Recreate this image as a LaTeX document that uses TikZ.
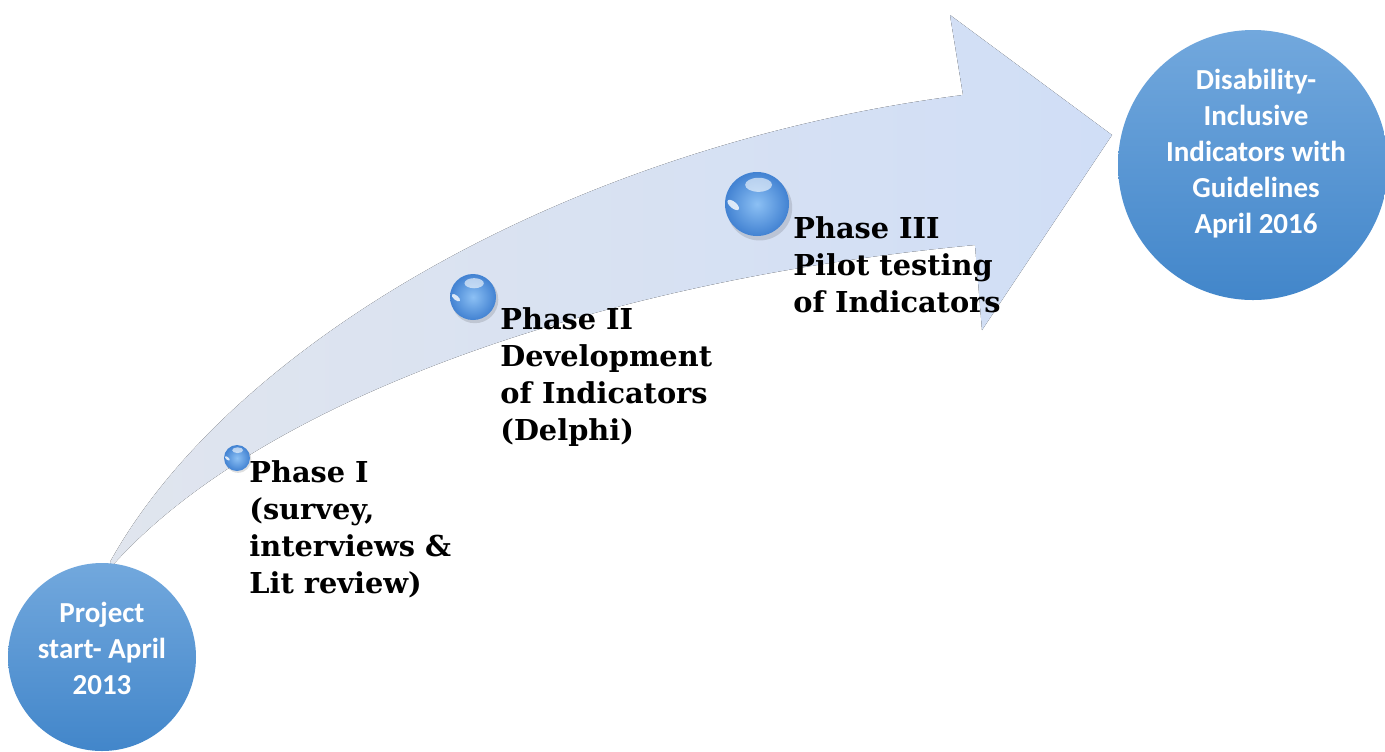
\documentclass[tikz,border=0pt]{standalone}
\usepackage{fontspec}
\newfontfamily\phasefont{DejaVu Serif}
\newfontfamily\circfont{Carlito}
\usetikzlibrary{calc}
\definecolor{arrowA}{RGB}{224,229,238}
\definecolor{arrowB}{RGB}{208,222,246}
\definecolor{circTop}{RGB}{114,168,221}
\definecolor{circBot}{RGB}{66,134,202}
\definecolor{ballIn}{RGB}{140,192,244}
\definecolor{ballOut}{RGB}{66,130,210}
\newcommand\glossball[4]{%
  \fill[black, opacity=0.12] (#2+0.08*#4, #3+0.12*#4) circle[radius=1.02*#4];
  \node[circle, inner sep=0pt, minimum size=#4 pt, inner color=ballIn, outer color=ballOut] (#1) at (#2,#3) {};
  \fill[white, opacity=0.6] ($(#1.center)+(0.05*#4,-0.6*#4)$) ellipse[x radius=0.42*#4, y radius=0.22*#4];
  \fill[white, opacity=0.8, rotate around={-40:($(#1.center)+(-0.55*#4,0.5*#4)$)}] ($(#1.center)+(-0.55*#4,0.5*#4)$) ellipse[x radius=0.22*#4, y radius=0.1*#4];
}
\begin{document}
\begin{tikzpicture}[x=0.5pt,y=-0.5pt,
  phase/.style={anchor=base west, align=left, inner sep=0pt,
    font=\phasefont\bfseries\fontsize{14.4}{18.5}\selectfont, text=black},
  bigcirc/.style={circle, inner sep=0pt, top color=circTop, bottom color=circBot, draw=none},
  circtext/.style={align=center, inner sep=0pt, text=white,
    font=\circfont\bfseries\fontsize{14.5}{18}\selectfont}]
\useasboundingbox (0,0) rectangle (1385,751);
\fill[white] (0,0) rectangle (1385,751);
% curved arrow
\fill[left color=arrowA, right color=arrowB]
  (110,562) .. controls (230,345) and (570,145) .. (963,95)
  -- (950,15) -- (1112,135) -- (982,330) -- (975,245)
  .. controls (600,280) and (260,400) .. (112,566)
  -- cycle;
% spheres
\glossball{b1}{237}{458}{13}
\glossball{b2}{473}{297}{23}
\glossball{b3}{757}{204}{32}
% phase texts (anchored at the baseline of the last line)
\node[phase] (p1) at (249,593) {Phase I\\(survey,\\interviews \&\\Lit review)};
\node[phase] (p2) at (500,440) {Phase II\\Development\\of Indicators\\(Delphi)};
\node[phase] (p3) at (793,312) {Phase III\\Pilot testing\\of Indicators};
% circles
\node[bigcirc, minimum size=94pt] (start) at (102,657) {};
\node[circtext] (starttxt) at (102,648) {Project\\start- April\\2013};
\node[bigcirc, minimum size=135pt] (end) at (1253,165) {};
\node[circtext] (endtxt) at (1256,154) {Disability-\\Inclusive\\Indicators with\\Guidelines\\April 2016};
\end{tikzpicture}
\end{document}
